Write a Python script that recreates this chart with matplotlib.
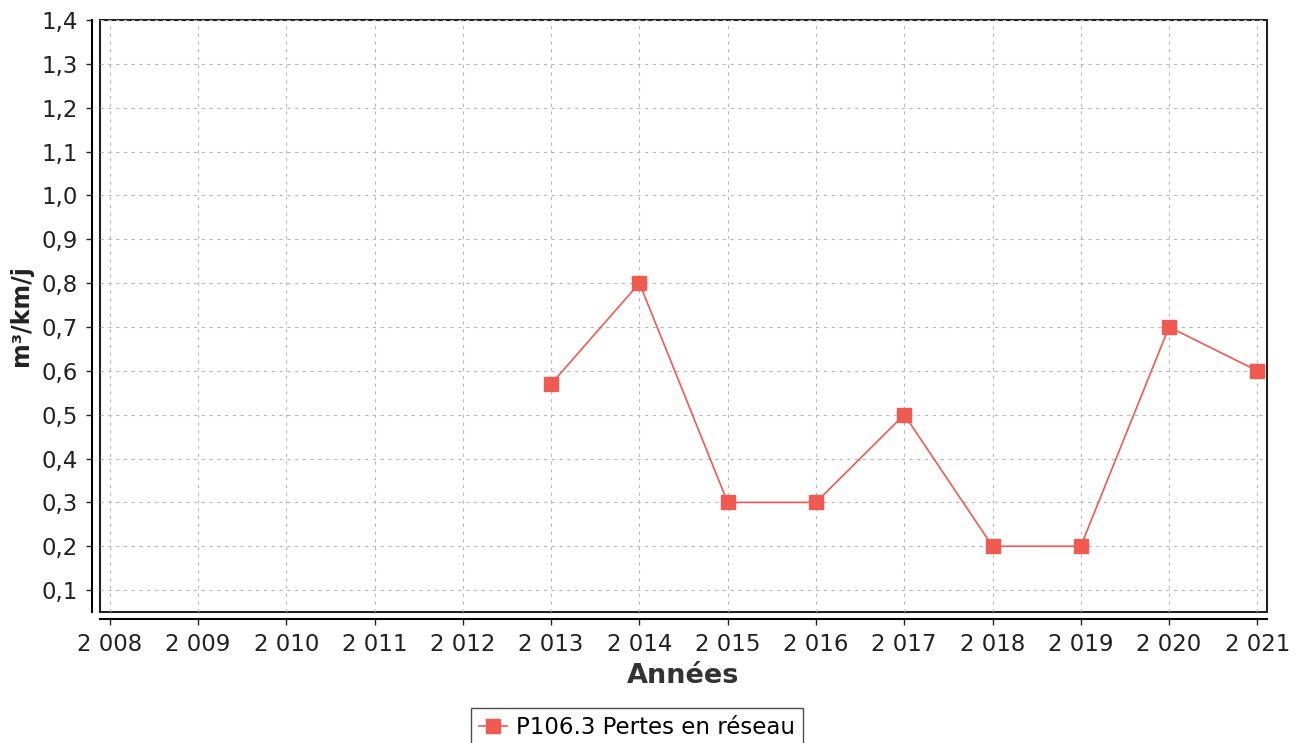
import matplotlib
matplotlib.use("Agg")
import matplotlib.pyplot as plt
from matplotlib.patches import Rectangle
from matplotlib.ticker import FuncFormatter, MultipleLocator

years = [2013, 2014, 2015, 2016, 2017, 2018, 2019, 2020, 2021]
pertes = [0.57, 0.80, 0.30, 0.30, 0.50, 0.20, 0.20, 0.70, 0.60]
xticks = list(range(2008, 2022))
series_label = "P106.3 Pertes en réseau"

red = "#f05a50"

fig = plt.figure(figsize=(13.01, 7.43), dpi=100)
ax = fig.add_axes([0.0769, 0.1763, 0.897, 0.7968])

ax.plot(years, pertes, color=red, lw=1.2, marker="s", markersize=10,
        markerfacecolor=red, markeredgecolor=red, label=series_label)

ax.set_xlim(2007.89, 2021.11)
ax.set_ylim(0.05, 1.4)
ax.set_xticks(xticks)
ax.xaxis.set_major_formatter(FuncFormatter(lambda v, p: f"{int(v):,}".replace(",", " ")))
ax.yaxis.set_major_locator(MultipleLocator(0.1))
ax.yaxis.set_major_formatter(FuncFormatter(lambda v, p: f"{v:.1f}".replace(".", ",")))

ax.grid(True, color="#b8b8b8", ls=(0, (3, 4)), lw=0.8)
for s in ["top", "right"]:
    ax.spines[s].set_visible(False)
ax.spines["left"].set_position(("outward", 6))
ax.spines["bottom"].set_position(("outward", 5))
ax.spines["left"].set_linewidth(1.5)
ax.spines["bottom"].set_linewidth(1.5)
ax.add_patch(Rectangle((0, 0), 1, 1, transform=ax.transAxes, fill=False,
                       edgecolor="#222222", lw=1.5, clip_on=False))

ax.tick_params(labelsize=16.5, length=4, width=1, colors="#222222", pad=6)
ax.set_xlabel("Années", fontsize=19.5, fontweight="bold", color="#333333", labelpad=5)
ax.set_ylabel("m³/km/j", fontsize=17, fontweight="bold", color="#222222", labelpad=6)

fig.legend(loc="upper center", bbox_to_anchor=(637 / 1301, 1 - 697 / 743),
           fontsize=16.5, frameon=True, fancybox=False, edgecolor="#222222",
           handlelength=1.2, handletextpad=0.4, borderpad=0.35)

fig.savefig("out.png", dpi=100)
